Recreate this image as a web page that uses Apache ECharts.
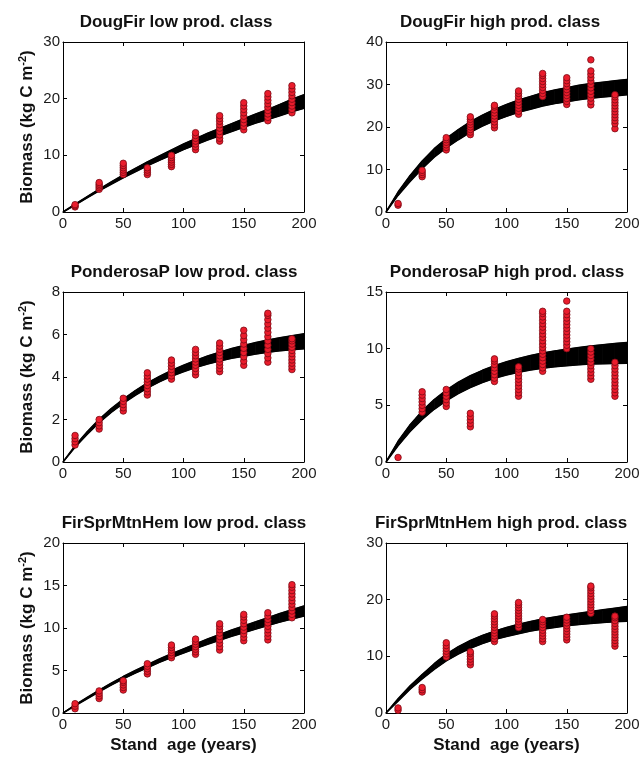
<!DOCTYPE html>
<html><head><meta charset="utf-8">
<script src="https://cdn.jsdelivr.net/npm/echarts@6/dist/echarts.min.js"></script>
<style>html,body{margin:0;padding:0;background:#fff}#c{width:644px;height:760px}</style>
</head><body><div id="c"></div>
<script>
// ---- data ----
const obsAges = [10, 30, 50, 70, 90, 110, 130, 150, 170, 190];
const curveAges = [0, 10, 20, 30, 40, 50, 60, 70, 80, 90, 100, 110, 120, 130, 140, 150, 160, 170, 180, 190, 200];

const titles = ["DougFir low prod. class", "DougFir high prod. class", "PonderosaP low prod. class",
  "PonderosaP high prod. class", "FirSprMtnHem low prod. class", "FirSprMtnHem high prod. class"];
const yMax = [30, 40, 8, 15, 20, 30];
const yStep = [10, 10, 2, 5, 5, 10];

// observed biomass (kg C m-2), one list per stand age
const dfLowObs = [[0.9, 1.1, 1.3], [4.0, 4.3, 4.6, 4.9, 5.2], [6.6, 7.0, 7.4, 7.8, 8.2, 8.6], [6.6, 7.0, 7.4, 7.8],
  [8.0, 8.4, 8.8, 9.2, 9.6, 10.0], [11.0, 11.5, 12.0, 12.5, 13.0, 13.5, 14.0], [12.5, 13.0, 13.6, 14.2, 14.8, 15.4, 16.0, 16.5, 17.0],
  [14.5, 15.1, 15.7, 16.3, 16.9, 17.5, 18.1, 18.7, 19.3], [16.1, 16.7, 17.3, 17.9, 18.5, 19.1, 19.7, 20.3, 20.9],
  [17.5, 18.1, 18.7, 19.3, 19.9, 20.5, 21.1, 21.7, 22.3]];
const dfHighObs = [[1.6, 2.0], [8.3, 8.8, 9.3, 9.8], [14.6, 15.2, 15.8, 16.4, 17.0, 17.5], [18.2, 18.8, 19.4, 20.0, 20.6, 21.2, 21.8, 22.4],
  [19.8, 20.5, 21.2, 21.9, 22.6, 23.3, 24.0, 24.7, 25.1], [23.0, 23.7, 24.4, 25.1, 25.8, 26.5, 27.2, 27.9, 28.5],
  [27.2, 27.9, 28.6, 29.3, 30.0, 30.7, 31.4, 32.1, 32.6], [25.3, 26.0, 26.7, 27.4, 28.1, 28.8, 29.5, 30.2, 30.9, 31.6],
  [25.2, 26.0, 26.8, 27.6, 28.4, 29.2, 30.0, 30.8, 31.6, 32.4, 33.2, 35.8],
  [19.6, 20.8, 21.5, 22.2, 22.9, 23.6, 24.3, 25.0, 25.7, 26.4, 27.1, 27.6]];
const ppLowObs = [[0.8, 0.95, 1.1, 1.25], [1.55, 1.7, 1.85, 2.0], [2.4, 2.55, 2.7, 2.85, 3.0], [3.15, 3.3, 3.45, 3.6, 3.75, 3.9, 4.05, 4.2],
  [3.9, 4.05, 4.2, 4.35, 4.5, 4.65, 4.8], [4.1, 4.25, 4.4, 4.55, 4.7, 4.85, 5.0, 5.15, 5.3],
  [4.25, 4.4, 4.55, 4.7, 4.85, 5.0, 5.15, 5.3, 5.45, 5.6], [4.55, 4.75, 4.95, 5.15, 5.35, 5.55, 5.75, 5.95, 6.2],
  [4.7, 4.9, 5.1, 5.3, 5.5, 5.7, 5.9, 6.1, 6.3, 6.5, 6.7, 6.9, 7.0],
  [4.35, 4.5, 4.65, 4.8, 4.95, 5.1, 5.25, 5.4, 5.55, 5.7, 5.8]];
const ppHighObs = [[0.4], [4.4, 4.7, 5.0, 5.3, 5.6, 5.9, 6.2], [4.9, 5.2, 5.5, 5.8, 6.1, 6.4], [3.1, 3.4, 3.7, 4.0, 4.3],
  [7.1, 7.4, 7.7, 8.0, 8.3, 8.6, 8.9, 9.1], [5.8, 6.1, 6.4, 6.7, 7.0, 7.3, 7.6, 7.9, 8.2, 8.4],
  [8.0, 8.3, 8.6, 8.9, 9.2, 9.5, 9.8, 10.1, 10.4, 10.7, 11.0, 11.3, 11.6, 11.9, 12.2, 12.5, 12.8, 13.1, 13.3],
  [10.0, 10.3, 10.6, 10.9, 11.2, 11.5, 11.8, 12.1, 12.4, 12.7, 13.0, 13.3, 14.2],
  [7.3, 7.6, 7.9, 8.2, 8.5, 8.8, 9.1, 9.4, 9.7, 10.0], [5.8, 6.1, 6.4, 6.7, 7.0, 7.3, 7.6, 7.9, 8.2, 8.5, 8.8]];
const fsLowObs = [[0.5, 0.8, 1.1], [1.7, 2.0, 2.3, 2.6], [2.7, 3.0, 3.3, 3.6, 3.8], [4.6, 4.9, 5.2, 5.5, 5.8],
  [6.5, 6.8, 7.1, 7.4, 7.7, 8.0], [6.9, 7.2, 7.5, 7.8, 8.1, 8.4, 8.7], [7.4, 7.8, 8.2, 8.6, 9.0, 9.4, 9.8, 10.2, 10.5],
  [8.5, 8.9, 9.3, 9.7, 10.1, 10.5, 10.9, 11.3, 11.6], [8.6, 9.0, 9.4, 9.8, 10.2, 10.6, 11.0, 11.4, 11.8],
  [11.2, 11.6, 12.0, 12.4, 12.8, 13.2, 13.6, 14.0, 14.4, 14.8, 15.1]];
const fsHighObs = [[0.5, 0.9], [3.7, 4.1, 4.5], [9.9, 10.4, 10.9, 11.4, 11.9, 12.4], [8.5, 9.0, 9.5, 10.0, 10.5, 10.8],
  [12.6, 13.1, 13.6, 14.1, 14.6, 15.1, 15.6, 16.1, 16.6, 17.1, 17.5], [15.1, 15.6, 16.1, 16.6, 17.1, 17.6, 18.1, 18.6, 19.1, 19.5],
  [12.6, 13.1, 13.6, 14.1, 14.6, 15.1, 15.6, 16.1, 16.5], [12.9, 13.4, 13.9, 14.4, 14.9, 15.4, 15.9, 16.4, 16.9],
  [17.6, 18.1, 18.6, 19.1, 19.6, 20.1, 20.6, 21.1, 21.6, 22.1, 22.4],
  [11.8, 12.3, 12.8, 13.3, 13.8, 14.3, 14.8, 15.3, 15.8, 16.3, 16.8, 17.1]];

// ensemble of model curves: lower and upper envelope at curveAges
const dfLowLower = [0, 1.22, 2.48, 3.75, 4.9, 6.05, 7.1, 8.15, 9.1, 10.05, 11.0, 11.85, 12.7, 13.45, 14.2, 14.95, 15.7, 16.3, 17.0, 17.7, 18.3];
const dfLowUpper = [0, 1.38, 2.72, 4.05, 5.3, 6.55, 7.7, 8.85, 9.9, 10.95, 12.0, 12.95, 13.9, 14.75, 15.6, 16.45, 17.3, 18.1, 19.0, 19.9, 20.7];
const dfHighLower = [0, 3.9, 7.2, 10.2, 12.9, 15.1, 17.0, 18.75, 20.2, 21.45, 22.5, 23.45, 24.2, 24.95, 25.5, 25.95, 26.4, 26.78, 27.05, 27.32, 27.6];
const dfHighUpper = [0, 4.7, 8.6, 12.0, 14.9, 17.3, 19.4, 21.25, 22.8, 24.15, 25.3, 26.35, 27.2, 28.05, 28.7, 29.25, 29.8, 30.22, 30.55, 30.88, 31.2];
const ppLowLower = [0, 0.69, 1.30, 1.85, 2.33, 2.76, 3.14, 3.48, 3.77, 4.03, 4.25, 4.44, 4.61, 4.75, 4.88, 4.98, 5.08, 5.16, 5.23, 5.28, 5.33];
const ppLowUpper = [0, 0.77, 1.42, 2.01, 2.51, 2.96, 3.36, 3.72, 4.03, 4.31, 4.55, 4.78, 4.99, 5.17, 5.34, 5.48, 5.62, 5.74, 5.85, 5.94, 6.03];
const ppHighLower = [0, 1.43, 2.69, 3.75, 4.65, 5.40, 6.04, 6.57, 7.01, 7.38, 7.68, 7.92, 8.12, 8.28, 8.40, 8.50, 8.58, 8.64, 8.67, 8.70, 8.71];
const ppHighUpper = [0, 1.83, 3.29, 4.51, 5.51, 6.34, 7.04, 7.61, 8.09, 8.50, 8.84, 9.14, 9.40, 9.62, 9.80, 9.96, 10.10, 10.24, 10.35, 10.46, 10.55];
const fsLowLower = [0, 0.85, 1.67, 2.5, 3.28, 4.01, 4.69, 5.32, 5.95, 6.53, 7.05, 7.57, 8.09, 8.56, 9.03, 9.45, 9.87, 10.28, 10.69, 11.05, 11.4];
const fsLowUpper = [0, 0.95, 1.83, 2.7, 3.52, 4.29, 5.01, 5.68, 6.35, 6.97, 7.55, 8.13, 8.71, 9.24, 9.77, 10.25, 10.73, 11.22, 11.71, 12.15, 12.6];
const fsHighLower = [0, 2.1, 4.2, 6.0, 7.7, 9.2, 10.4, 11.4, 12.25, 12.95, 13.5, 14.0, 14.45, 14.8, 15.1, 15.4, 15.6, 15.8, 15.95, 16.1, 16.2];
const fsHighUpper = [0, 2.5, 4.8, 6.8, 8.7, 10.4, 11.7, 12.8, 13.7, 14.45, 15.1, 15.65, 16.15, 16.6, 16.95, 17.3, 17.6, 17.9, 18.2, 18.5, 18.8];

const panelObs = [dfLowObs, dfHighObs, ppLowObs, ppHighObs, fsLowObs, fsHighObs];
const panelLower = [dfLowLower, dfHighLower, ppLowLower, ppHighLower, fsLowLower, fsHighLower];
const panelUpper = [dfLowUpper, dfHighUpper, ppLowUpper, ppHighUpper, fsLowUpper, fsHighUpper];

// ---- layout ----
const FONT = '"Liberation Sans", Arial, Helvetica, sans-serif';
const colLeft = [63, 386];
const rowTop = [42, 292, 543];
const plotW = 241, plotH = 170;
const titlePos = [[176, 22], [500, 22], [184, 272], [507, 272], [184, 523], [501, 523]];

const grids = [], xAxes = [], yAxes = [], series = [], graphics = [];
for (let p = 0; p < 6; p++) {
  const r = Math.floor(p / 2), c = p % 2;
  grids.push({ left: colLeft[c], top: rowTop[r], width: plotW, height: plotH, containLabel: false });
  const tick = { show: true, inside: true, length: 4, lineStyle: { color: '#000', width: 1 } };
  const line = { show: true, onZero: false, lineStyle: { color: '#000', width: 1 } };
  const lbl = { fontSize: 15, color: '#1a1a1a', fontFamily: FONT, margin: 4 };
  const xb = { type: 'value', gridIndex: p, min: 0, max: 200, interval: 50, position: 'bottom',
    axisLine: line, axisTick: tick, axisLabel: lbl, splitLine: { show: false } };
  if (r === 2) {
    xb.name = 'Stand  age (years)';
    xb.nameLocation = 'middle';
    xb.nameGap = 24;
    xb.nameTextStyle = { fontSize: 17, fontWeight: 'bold', color: '#111', fontFamily: FONT };
  }
  xAxes.push(xb);
  xAxes.push({ type: 'value', gridIndex: p, min: 0, max: 200, interval: 50, position: 'top',
    axisLine: line, axisTick: tick, axisLabel: { show: false }, splitLine: { show: false } });
  const yl = { type: 'value', gridIndex: p, min: 0, max: yMax[p], interval: yStep[p], position: 'left',
    axisLine: line, axisTick: tick, axisLabel: Object.assign({}, lbl, { margin: 3 }), splitLine: { show: false } };
  if (c === 0) {
    yl.name = '{a|Biomass (kg C m}{s|-2}{a|)}';
    yl.nameLocation = 'middle';
    yl.nameRotate = 90;
    yl.nameGap = 26;
    yl.nameTextStyle = { rich: {
      a: { fontSize: 17, fontWeight: 'bold', color: '#111', fontFamily: FONT, lineHeight: 20 },
      s: { fontSize: 11, fontWeight: 'bold', color: '#111', fontFamily: FONT, verticalAlign: 'top', lineHeight: 20 } } };
  }
  yAxes.push(yl);
  yAxes.push({ type: 'value', gridIndex: p, min: 0, max: yMax[p], interval: yStep[p], position: 'right',
    axisLine: line, axisTick: tick, axisLabel: { show: false }, splitLine: { show: false } });

  const lower = panelLower[p], upper = panelUpper[p];
  const bandData = curveAges.map((a, i) => [a, lower[i], upper[i]]);
  // filled envelope of the model ensemble: quads between consecutive ages
  series.push({ type: 'custom', xAxisIndex: 2 * p, yAxisIndex: 2 * p, silent: true, animation: false, z: 2,
    encode: { x: 0, y: [1, 2] }, clip: true,
    data: bandData,
    renderItem: (params, api) => {
      const i = params.dataIndex;
      if (i === 0) return null;
      const prev = bandData[i - 1], cur = bandData[i];
      const pts = [api.coord([prev[0], prev[1]]), api.coord([cur[0], cur[1]]),
                   api.coord([cur[0], cur[2]]), api.coord([prev[0], prev[2]])];
      return { type: 'polygon', shape: { points: pts }, style: { fill: '#000', stroke: '#000', lineWidth: 0.8 } };
    } });
  series.push({ type: 'line', xAxisIndex: 2 * p, yAxisIndex: 2 * p, symbol: 'none', silent: true, animation: false, z: 3,
    lineStyle: { color: '#000', width: 1.5 }, data: bandData.map(d => [d[0], d[1]]) });
  series.push({ type: 'line', xAxisIndex: 2 * p, yAxisIndex: 2 * p, symbol: 'none', silent: true, animation: false, z: 3,
    lineStyle: { color: '#000', width: 1.5 }, data: bandData.map(d => [d[0], d[2]]) });
  const pts = [];
  panelObs[p].forEach((vals, i) => vals.forEach(v => pts.push([obsAges[i], v])));
  series.push({ type: 'scatter', xAxisIndex: 2 * p, yAxisIndex: 2 * p, symbol: 'circle', symbolSize: 6.5,
    animation: false, z: 5,
    itemStyle: { color: '#ea1c2c', borderColor: '#7a0a14', borderWidth: 0.8, opacity: 1 },
    data: pts });

  graphics.push({ type: 'text', x: titlePos[p][0], y: titlePos[p][1],
    style: { text: titles[p], fill: '#111', font: 'bold 17px ' + FONT, textAlign: 'center', textVerticalAlign: 'middle', verticalAlign: 'middle' } });
}

const chart = echarts.init(document.getElementById('c'), null, { renderer: 'canvas' });
chart.setOption({ animation: false, backgroundColor: '#fff', grid: grids, xAxis: xAxes, yAxis: yAxes, series: series, graphic: graphics });
</script></body></html>
